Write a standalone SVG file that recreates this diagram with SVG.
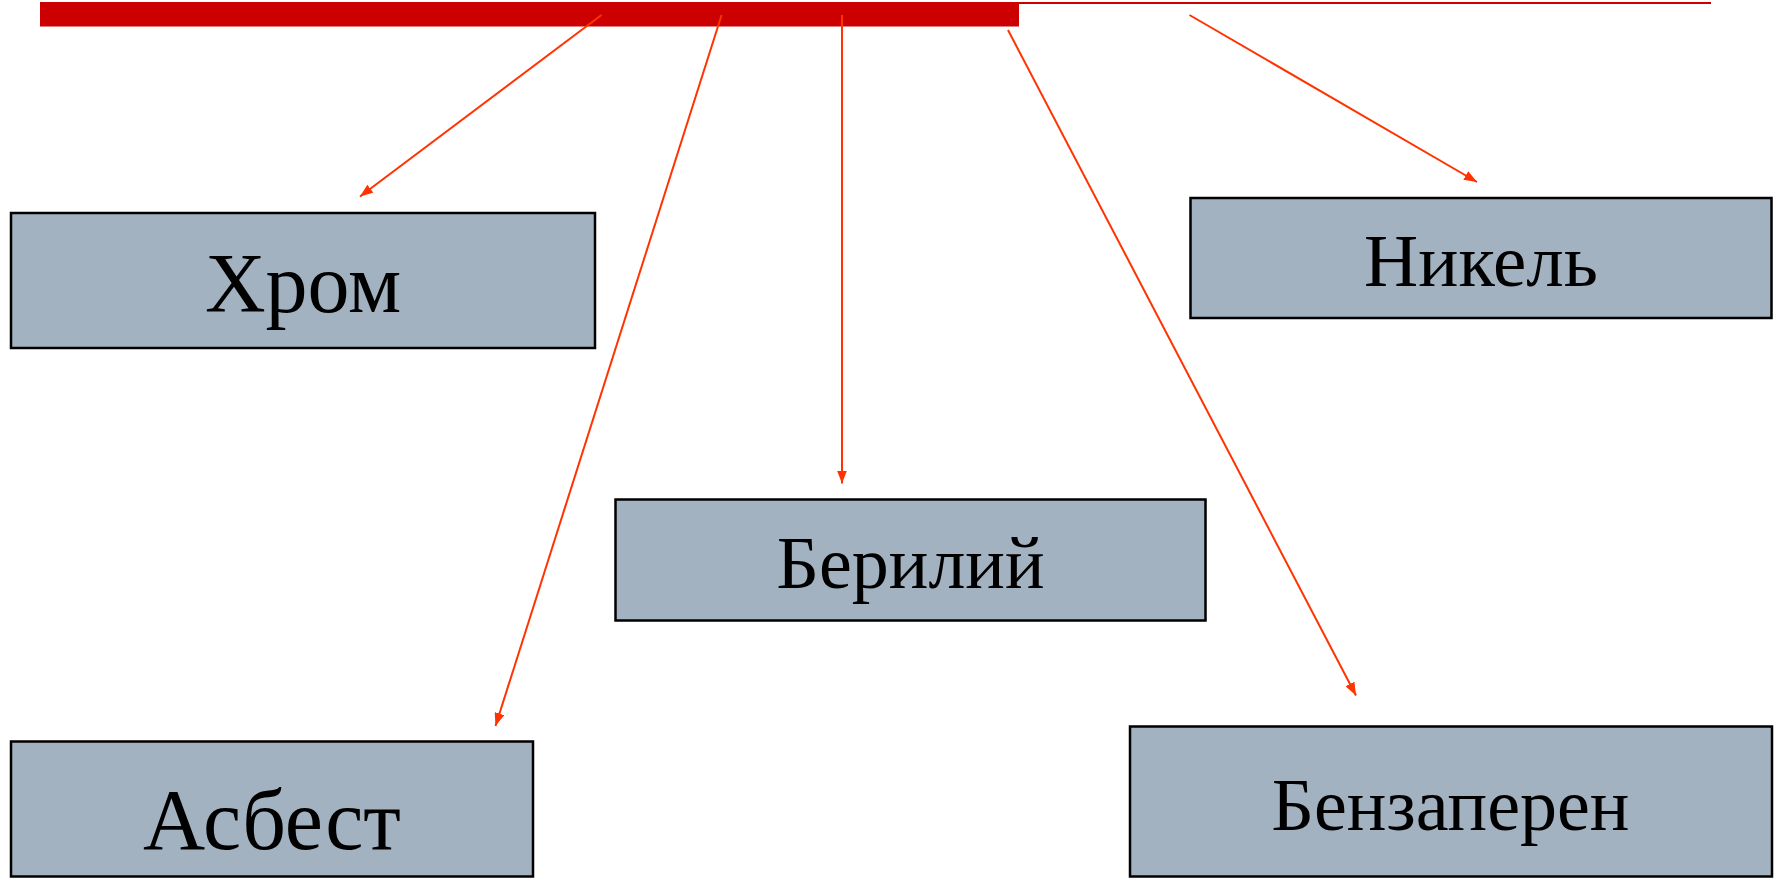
<svg xmlns="http://www.w3.org/2000/svg" width="1779" height="878" viewBox="0 0 1779 878">
<style>
.box{fill:#A3B2C1;stroke:#000;stroke-width:2.5}
.lbl{font-family:"Liberation Serif","Times New Roman",serif;fill:#000;text-anchor:middle}
.con{stroke:#FF3300;stroke-width:2;fill:none;marker-end:url(#ah)}
</style>
<defs>
<marker id="ah" markerUnits="userSpaceOnUse" markerWidth="14" markerHeight="10" refX="13" refY="5" orient="auto" viewBox="0 0 14 10">
<path d="M0,0 L13,5 L0,10 z" fill="#FF3300"/>
</marker>
</defs>
<g id="header">
<rect x="40" y="2" width="979" height="24.5" fill="#CC0000"/>
<rect x="1019" y="2" width="692" height="2" fill="#CC0000"/>
</g>
<g id="connectors">
<line class="con" x1="601.5" y1="15" x2="360" y2="196.5"/>
<line class="con" x1="721.6" y1="15" x2="495.5" y2="726"/>
<line class="con" x1="842" y1="15" x2="842" y2="483.5"/>
<line class="con" x1="1008" y1="30" x2="1356" y2="695.5"/>
<line class="con" x1="1189.5" y1="15" x2="1477" y2="182"/>
</g>
<g id="node-khrom">
<rect class="box" x="11" y="213" width="584" height="135"/>
<text class="lbl" x="303" y="312" font-size="84">Хром</text>
</g>
<g id="node-nikel">
<rect class="box" x="1190.5" y="198" width="581" height="120"/>
<text class="lbl" x="1481" y="286" font-size="75">Никель</text>
</g>
<g id="node-beriliy">
<rect class="box" x="615.5" y="499.5" width="590" height="121"/>
<text class="lbl" x="910.5" y="588" font-size="74">Берилий</text>
</g>
<g id="node-asbest">
<rect class="box" x="11" y="741.5" width="522" height="135"/>
<text class="lbl" x="272" y="849" font-size="86">Асбест</text>
</g>
<g id="node-benzaperen">
<rect class="box" x="1130" y="726.5" width="642" height="150"/>
<text class="lbl" x="1450.5" y="830" font-size="74">Бензаперен</text>
</g>
</svg>
